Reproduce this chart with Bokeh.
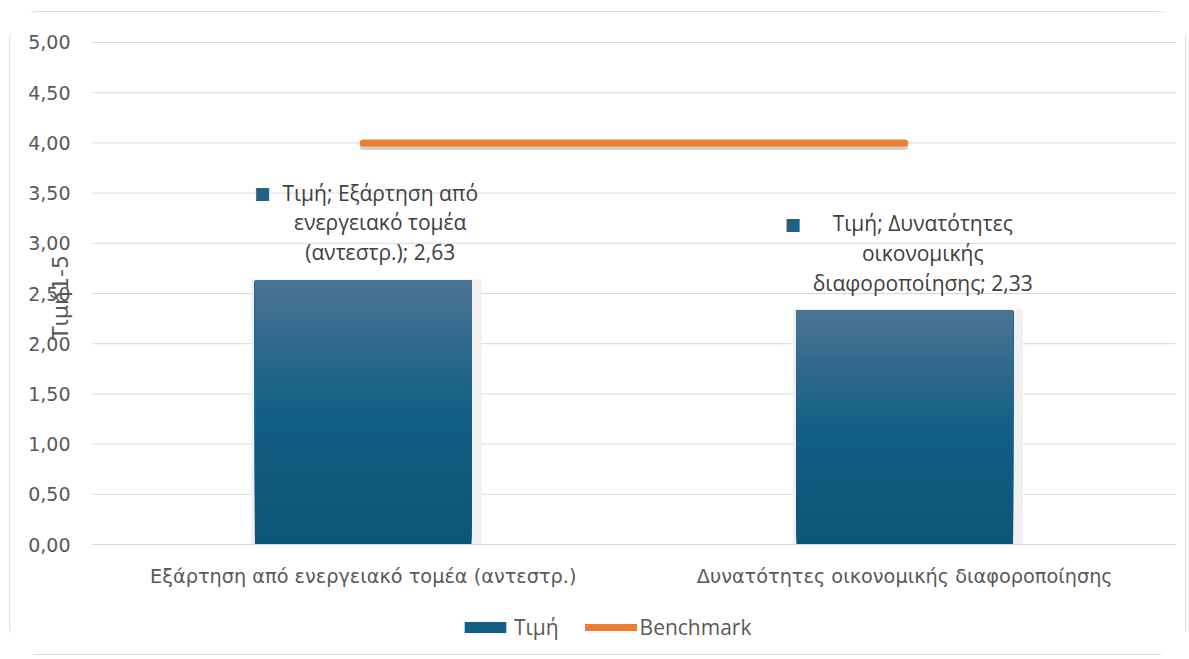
import math
from bokeh.plotting import figure
from bokeh.models import (Range1d, FixedTicker, CustomJSTickFormatter,
                          Legend, LegendItem, ColumnDataSource, Label)
from bokeh.transform import dodge
from bokeh.core.properties import value
from bokeh.embed import file_html
from bokeh.resources import INLINE

# ---------------- data ----------------
categories = ["Εξάρτηση από ενεργειακό τομέα (αντεστρ.)",
              "Δυνατότητες οικονομικής διαφοροποίησης"]
values = [2.63, 2.33]
benchmark = [4.0, 4.0]
y_ticks = [0, 0.5, 1.0, 1.5, 2.0, 2.5, 3.0, 3.5, 4.0, 4.5, 5.0]
series_name = "Τιμή"
benchmark_name = "Benchmark"
y_title = "Τιμή1-5"
label_lines = [["Τιμή; Εξάρτηση από", "ενεργειακό τομέα", "(αντεστρ.); {v}"],
               ["Τιμή; Δυνατότητες", "οικονομικής", "διαφοροποίησης; {v}"]]

# ---------------- styles ----------------
GRID = "#D9D9D9"
TXT = "#595959"
LBL = "#404040"
ORANGE = "#ED7D31"
AXIS_FONT = "DejaVu Sans"
LBL_FONT = "Open Sans"
label_text_dx = [17, 18]
label_marker_dx = [-101, -112]

W, H = 1177, 644
# frame covers the whole canvas; the category axis spans [0, n]
n = len(categories)
xpos = [i + 0.5 for i in range(n)]
X_START, X_END = -0.15143, n + 0.02216
Y_START, Y_END = -1.1155, 5.2988


def fmt(v):
    return f"{v:.2f}".replace(".", ",")


def hex2rgb(h):
    h = h.lstrip("#")
    return tuple(int(h[i:i + 2], 16) for i in (0, 2, 4))


stops = [(0.0, hex2rgb("#0C5577")), (0.5, hex2rgb("#125F85")), (1.0, hex2rgb("#4B7494"))]


def grad(t):
    for (t0, c0), (t1, c1) in zip(stops[:-1], stops[1:]):
        if t <= t1:
            f = (t - t0) / (t1 - t0)
            return "#%02x%02x%02x" % tuple(int(round(a + (b - a) * f)) for a, b in zip(c0, c1))
    return "#%02x%02x%02x" % stops[-1][1]


p = figure(x_range=Range1d(X_START, X_END), y_range=Range1d(Y_START, Y_END),
           width=W, height=H, output_backend="svg", toolbar_location=None,
           min_border_left=0, min_border_right=0, min_border_top=0, min_border_bottom=0)
p.styles = {"border": "1px solid #D9D9D9", "border-radius": "30px",
            "margin-left": "9px", "margin-top": "11px"}
p.outline_line_color = None
p.xgrid.visible = False
p.ygrid.visible = False
p.background_fill_color = "white"

# horizontal grid lines across the category span
p.segment(x0=[0] * len(y_ticks), x1=[n] * len(y_ticks), y0=y_ticks, y1=y_ticks,
          line_color=GRID, line_width=1)

# shadow behind bars
p.vbar(x=dodge("x", 0.006), top="top", width=0.425,
       source=ColumnDataSource(dict(x=xpos, top=[v + 0.012 for v in values])),
       fill_color="#F0F0F0", line_color=None)

# gradient bars (slices)
N = 60
xs, bottoms, tops, colors = [], [], [], []
for xc, v in zip(xpos, values):
    for i in range(N):
        xs.append(xc)
        bottoms.append(v * i / N)
        tops.append(v)
        colors.append(grad((i + 0.5) / N))
bar_r = p.vbar(x="x", bottom="bottom", top="top", width=0.4, fill_color="color",
               line_color=None,
               source=ColumnDataSource(dict(x=xs, bottom=bottoms, top=tops, color=colors)))

# benchmark line with shadow
p.line(xpos, [b - 0.035 for b in benchmark], line_width=7, line_color="#9A9A9A",
       line_alpha=0.45, line_cap="round")
line_r = p.line(xpos, benchmark, line_width=7, line_color=ORANGE, line_cap="round")

# data labels
for i, (xc, v) in enumerate(zip(xpos, values)):
    txt = "\n".join(label_lines[i]).format(v=fmt(v))
    p.text(x=[xc], y=[v], text=[txt], text_align="center", text_baseline="bottom",
           x_offset=label_text_dx[i], y_offset=-14, text_font=value(LBL_FONT),
           text_font_size="21px", text_color=LBL, text_line_height=1.07)
    p.text(x=[xc], y=[v], text=["■"], text_align="center", text_baseline="middle",
           x_offset=label_marker_dx[i], y_offset=-87, text_font=value(AXIS_FONT),
           text_font_size="17px", text_color="#235F82")

# axes (fixed inside the frame)
p.yaxis.fixed_location = 0
p.yaxis.ticker = FixedTicker(ticks=y_ticks)
p.yaxis.formatter = CustomJSTickFormatter(code="return tick.toFixed(2).replace('.', ',');")
p.yaxis.axis_line_color = None
p.yaxis.major_tick_line_color = None
p.yaxis.minor_tick_line_color = None
p.yaxis.major_tick_out = 0
p.yaxis.major_tick_in = 0
p.yaxis.major_label_standoff = 22
p.yaxis.major_label_text_font = AXIS_FONT
p.yaxis.major_label_text_font_size = "19px"
p.yaxis.major_label_text_color = TXT

p.xaxis.fixed_location = 0
p.xaxis.bounds = (0, n)
p.xaxis.ticker = FixedTicker(ticks=xpos)
p.xaxis.major_label_overrides = {xc: c for xc, c in zip(xpos, categories)}
p.xaxis.axis_line_color = GRID
p.xaxis.major_tick_line_color = None
p.xaxis.minor_tick_line_color = None
p.xaxis.major_tick_out = 0
p.xaxis.major_tick_in = 0
p.xaxis.major_label_standoff = 20
p.xaxis.major_label_text_font = AXIS_FONT
p.xaxis.major_label_text_font_size = "19.3px"
p.xaxis.major_label_text_color = TXT

# y-axis title
p.add_layout(Label(x=0, y=(y_ticks[0] + y_ticks[-1]) / 2, x_offset=-32, y_offset=-4,
                   text=y_title, angle=math.pi / 2, text_align="center",
                   text_baseline="middle", text_font=AXIS_FONT, text_font_size="22px",
                   text_color=TXT))

legend = Legend(items=[LegendItem(label=series_name, renderers=[bar_r], index=N // 2),
                       LegendItem(label=benchmark_name, renderers=[line_r])],
                orientation="horizontal", location=(449, 15),
                glyph_width=52, glyph_height=14, label_standoff=3, spacing=26,
                label_text_font=LBL_FONT, label_text_font_size="21px",
                label_text_color=TXT, border_line_color=None,
                background_fill_alpha=0, padding=2, margin=0)
p.add_layout(legend)

open("out.html", "w").write(file_html(p, INLINE))
